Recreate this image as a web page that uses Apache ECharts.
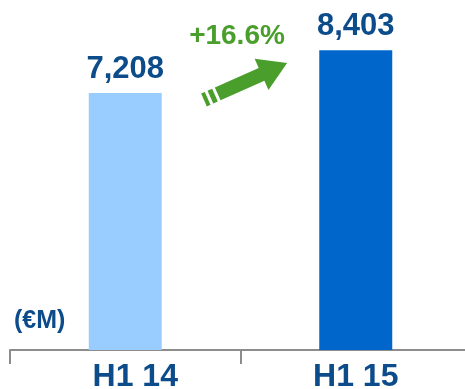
<!DOCTYPE html>
<html>
<head>
<meta charset="utf-8">
<script src="https://cdn.jsdelivr.net/npm/echarts@6/dist/echarts.min.js"></script>
<style>
  html, body { margin: 0; padding: 0; background: #ffffff; }
  #chart { width: 465px; height: 389px; }
</style>
</head>
<body>
<div id="chart"></div>
<script>
// Half-year revenue, € millions
const periods = ['H1 14', 'H1 15'];
const revenue = [7208, 8403];
const barColors = ['#99ccff', '#0066cc'];
const growthLabel = '+16.6%';
const unitLabel = '(€M)';

const FONT = '"Liberation Sans", Arial, sans-serif';
const NAVY = '#0d4c8a';
const GREEN = '#4a9e2c';

const chart = echarts.init(document.getElementById('chart'), null, { renderer: 'canvas' });

// Arrow drawn along the local x axis, then rotated up-right
const arrowAngle = 24 * Math.PI / 180;
const arrowShape = [
  [15, -7], [63, -7], [63, -17], [91, 0], [63, 17], [63, 7], [15, 7]
];

chart.setOption({
  animation: false,
  grid: { left: 10, right: -6, top: 29, bottom: 39, outerBoundsMode: 'none', containLabel: false },
  xAxis: {
    type: 'category',
    data: periods,
    axisLine: { show: true, lineStyle: { color: '#8c8c8c', width: 2 } },
    axisTick: { show: true, length: 14, lineStyle: { color: '#8c8c8c', width: 2 } },
    axisLabel: {
      margin: 11,
      fontFamily: FONT,
      fontSize: 32,
      fontWeight: 'bold',
      color: NAVY,
      formatter: function (v, i) {
        return i === 0 ? '{a|' + v + '}' : '{b|' + v + '}';
      },
      rich: {
        a: { fontFamily: FONT, fontSize: 32, fontWeight: 'bold', color: NAVY, padding: [0, 0, 0, 20] },
        b: { fontFamily: FONT, fontSize: 32, fontWeight: 'bold', color: NAVY }
      }
    }
  },
  yAxis: { type: 'value', min: 0, max: 9000, show: false, splitLine: { show: false } },
  series: [{
    type: 'bar',
    barWidth: 73,
    data: revenue.map(function (v, i) {
      return { value: v, itemStyle: { color: barColors[i] } };
    }),
    label: {
      show: true,
      position: 'top',
      distance: 8,
      fontFamily: FONT,
      fontSize: 31,
      fontWeight: 'bold',
      color: NAVY,
      formatter: function (p) { return p.value.toLocaleString('en-US'); }
    }
  }],
  graphic: [
    {
      type: 'text',
      left: 14,
      top: 309,
      style: { text: unitLabel, fontFamily: FONT, fontSize: 25, fontWeight: 'bold', fill: NAVY }
    },
    {
      type: 'text',
      x: 237,
      y: 36,
      style: {
        text: growthLabel, fontFamily: FONT, fontSize: 28, fontWeight: 'bold', fill: GREEN,
        align: 'center', verticalAlign: 'middle'
      }
    },
    {
      type: 'group',
      x: 204,
      y: 100,
      rotation: arrowAngle,
      children: [
        { type: 'polygon', shape: { points: arrowShape }, style: { fill: GREEN } },
        { type: 'rect', shape: { x: 0, y: -7, width: 4, height: 14 }, style: { fill: GREEN } },
        { type: 'rect', shape: { x: 7, y: -7, width: 5, height: 14 }, style: { fill: GREEN } }
      ]
    }
  ]
});
</script>
</body>
</html>
